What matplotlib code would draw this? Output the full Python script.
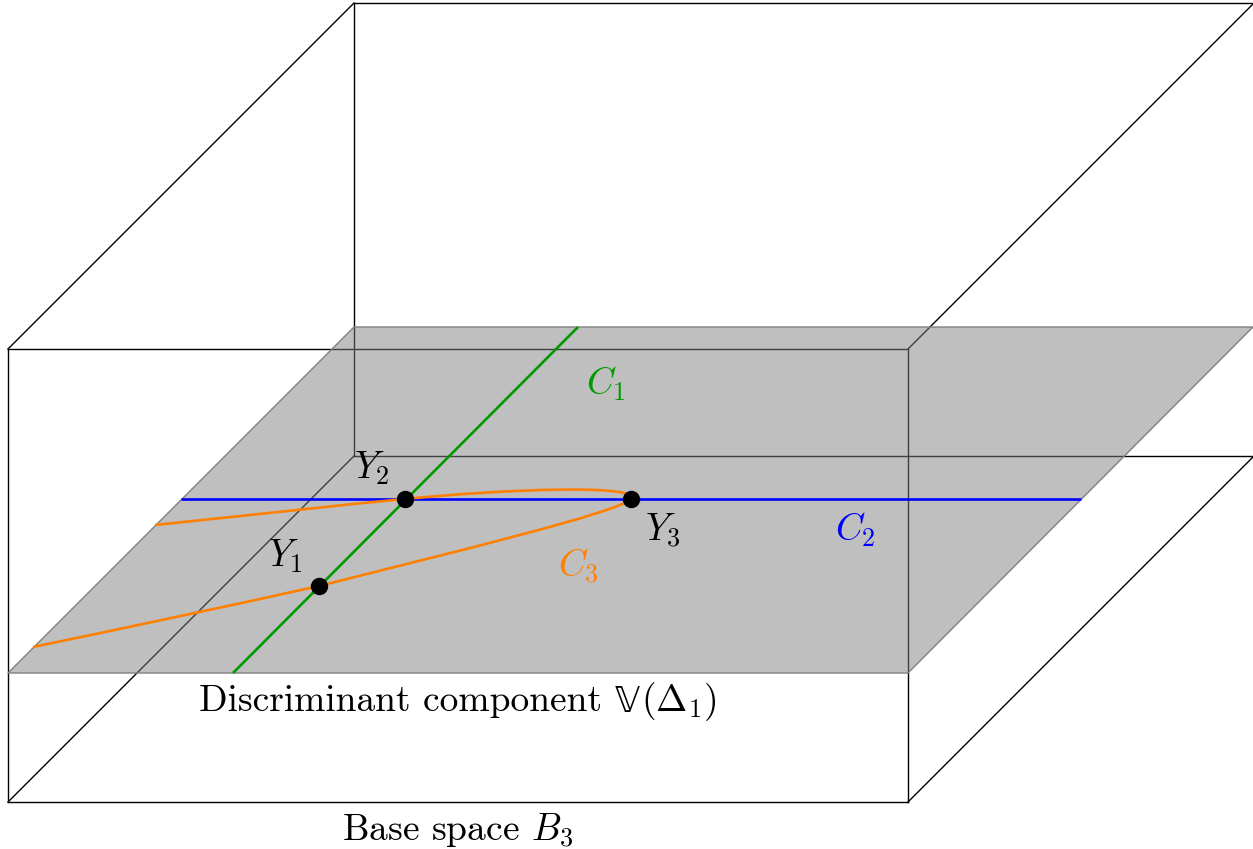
import matplotlib
matplotlib.use("Agg")
import matplotlib.pyplot as plt
from matplotlib.patches import Polygon, PathPatch
from matplotlib.path import Path
from matplotlib.offsetbox import TextArea, HPacker, AnnotationBbox

plt.rcParams['mathtext.fontset'] = 'cm'
plt.rcParams['font.family'] = ['cmr10', 'DejaVu Serif']
plt.rcParams['axes.unicode_minus'] = False

W, H = 1253, 849

# box (front face, back face offset), pixel coordinates
front = [(8, 349), (908, 349), (908, 802), (8, 802)]
depth = (346, -346)
back = [(x + depth[0], y + depth[1]) for x, y in front]

# discriminant plane
plane = [(8, 673), (908, 673), (1253, 327), (354, 327)]

# curves
c1_line = ([233, 578], [673, 327])
c2_line = ([181, 1081], [499, 499])
c3_nodes = [(155, 525), (280, 512), (340, 505), (405, 499),
            (505, 489), (640, 484), (631, 499),
            (620, 512), (450, 553), (319, 586),
            (220, 608), (120, 629), (33, 647)]
c3_codes = [Path.MOVETO] + [Path.CURVE4] * 12

pts = {'Y_1': (319, 586), 'Y_2': (405, 499), 'Y_3': (631, 499)}
pt_labels = {'Y_1': (285, 556), 'Y_2': (372, 468), 'Y_3': (663, 531)}

green = '#009900'
blue = '#0000ff'
orange = '#ff8000'
fs = 27

fig = plt.figure(figsize=(W / 100, H / 100), dpi=100)
ax = fig.add_axes([0, 0, 1, 1])
ax.set_xlim(0, W)
ax.set_ylim(H, 0)
ax.axis('off')

# box edges
for i in range(4):
    a, b = front[i], front[(i + 1) % 4]
    ax.plot([a[0], b[0]], [a[1], b[1]], color='black', lw=1.0, zorder=1)
    a, b = back[i], back[(i + 1) % 4]
    ax.plot([a[0], b[0]], [a[1], b[1]], color='black', lw=1.0, zorder=1)
    ax.plot([front[i][0], back[i][0]], [front[i][1], back[i][1]],
            color='black', lw=1.0, zorder=1)

# semi-transparent plane
ax.add_patch(Polygon(plane, closed=True, facecolor='#808080', alpha=0.5,
                     edgecolor='none', zorder=2))
ax.add_patch(Polygon(plane, closed=True, facecolor='none',
                     edgecolor='#808080', lw=1.0, zorder=2))

ax.plot(*c1_line, color=green, lw=1.9, zorder=3, solid_capstyle='butt')
ax.plot(*c2_line, color=blue, lw=1.9, zorder=3, solid_capstyle='butt')
ax.add_patch(PathPatch(Path(c3_nodes, c3_codes), facecolor='none',
                       edgecolor=orange, lw=1.9, zorder=4))

for k, (x, y) in pts.items():
    ax.plot(x, y, 'o', color='black', ms=11.5, zorder=5)
    lx, ly = pt_labels[k]
    ax.text(lx, ly, f'${k}$', fontsize=fs, ha='center', va='center', zorder=6)

ax.text(606, 384, '$C_1$', color=green, fontsize=fs, ha='center', va='center')
ax.text(855, 530, '$C_2$', color=blue, fontsize=fs, ha='center', va='center')
ax.text(578, 566, '$C_3$', color=orange, fontsize=fs, ha='center', va='center')

# "Discriminant component V(Delta_1)" built from pieces on one baseline
word = TextArea('Discriminant component', textprops=dict(fontsize=fs))
bbv = TextArea('\U0001D54D', textprops=dict(fontsize=fs - 2, family='DejaVu Sans'))
arg = TextArea(r'$(\Delta_1)$', textprops=dict(fontsize=fs))
row = HPacker(children=[word, HPacker(children=[bbv, arg], align='baseline', pad=0, sep=1)],
              align='baseline', pad=0, sep=9)
ab = AnnotationBbox(row, (458, 702), xycoords='data', frameon=False,
                    box_alignment=(0.5, 0.5))
ax.add_artist(ab)

ax.text(458, 830, r'Base space $B_3$', fontsize=fs, ha='center', va='center')

fig.savefig('out.png', dpi=100)
